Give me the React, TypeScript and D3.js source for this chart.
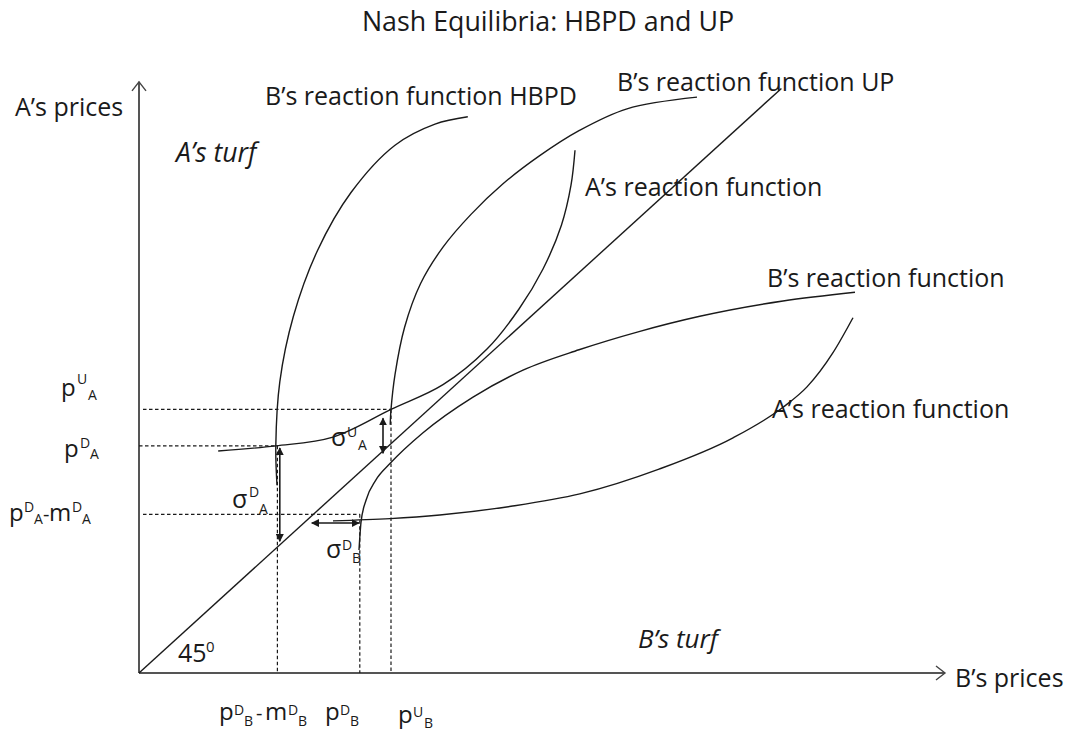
import React from "react";
import * as d3 from "d3";

// ---- Data (price units; the 45° line is A's price = B's price) ----
const pUA = 36.2;
const pDA = 31.2;
const pDAminus = 21.8;
const pDBminus = 17.3;
const pDB = 27.6;
const pUB = 31.5;

const bReactionHBPD: [number, number][] = [
  [17.25, 25.8], [17.1, 31.2], [17.6, 40.0], [19.3, 49.0], [22.3, 58.0], [26.5, 66.0],
  [32.0, 72.5], [37.0, 75.4], [41.1, 76.4],
];
const aReactionUpper: [number, number][] = [
  [9.9, 30.5], [17.1, 31.2], [24.25, 32.4], [31.5, 36.2], [38.0, 39.6], [43.5, 44.5],
  [47.5, 50.0], [50.5, 55.5], [52.8, 61.5], [54.0, 67.0], [54.5, 71.8],
];
const bReactionUP: [number, number][] = [
  [31.4, 34.1], [31.5, 36.2], [32.0, 41.0], [33.2, 47.5], [35.2, 53.5], [38.0, 58.5],
  [41.5, 63.0], [45.5, 67.2], [50.0, 71.0], [55.0, 74.5], [61.0, 77.5], [69.75, 79.1],
];
const bReactionLower: [number, number][] = [
  [27.5, 16.9], [27.75, 20.7], [28.4, 23.8], [29.6, 26.5], [31.4, 28.8], [35.5, 33.0],
  [41.75, 37.9], [48.0, 41.6], [55.0, 44.4], [62.5, 46.9], [70.1, 49.0], [80.5, 51.1], [89.5, 52.3],
];
const aReactionLower: [number, number][] = [
  [24.25, 20.9], [31.4, 21.2], [37.6, 21.7], [46.5, 22.9], [55.1, 24.6], [65.0, 28.0],
  [74.25, 32.3], [80.5, 36.5], [83.5, 39.3], [86.75, 44.0], [89.25, 48.8],
];
const diagonalEnd = 80.3;
const xAxisMax = 100.75;
const yAxisMax = 81.2;

// double-headed arrows [x1,y1,x2,y2]
const sigmaDA = [17.6, 30.9, 17.6, 18.1];
const sigmaUA = [30.5, 35.0, 30.5, 30.2];
const sigmaDB = [21.6, 20.6, 27.5, 20.6];

const W = 1068;
const H = 734;

const x = d3.scaleLinear().domain([0, 100]).range([139, 939]);
const y = d3.scaleLinear().domain([0, 100]).range([673, -55]);

const line = d3
  .line<[number, number]>()
  .x((d) => x(d[0]))
  .y((d) => y(d[1]))
  .curve(d3.curveCatmullRom.alpha(0.5));

const lineX = d3
  .line<[number, number]>()
  .x((d) => x(d[0]))
  .y((d) => y(d[1]))
  .curve(d3.curveMonotoneX);

const FONT = "'Open Sans', 'Noto Sans', sans-serif";
const INK = "#1a1a1a";

type Piece = { t: string; x: number; y: number; s: number };

const Sym = ({ parts }: { parts: Piece[] }) => (
  <text fontFamily={FONT} fill={INK}>
    {parts.map((p, i) => (
      <tspan key={i} x={p.x} y={p.y} fontSize={p.s}>
        {p.t}
      </tspan>
    ))}
  </text>
);

export default function App() {
  const dash = { stroke: INK, strokeWidth: 1.2, strokeDasharray: "3.5,2.5", fill: "none" };
  const curve = { stroke: INK, strokeWidth: 1.4, fill: "none" };
  const arrow = (a: number[], k: string) => (
    <line
      key={k}
      x1={x(a[0])}
      y1={y(a[1])}
      x2={x(a[2])}
      y2={y(a[3])}
      stroke={INK}
      strokeWidth={1.6}
      markerStart="url(#head)"
      markerEnd="url(#head)"
    />
  );
  const ox = x(0);
  const oy = y(0);
  const xe = x(xAxisMax);
  const ye = y(yAxisMax);
  return (
    <svg
      width={W}
      height={H}
      style={{ position: "absolute", left: 0, top: 0, background: "#fff" }}
    >
      <defs>
        <marker
          id="head"
          viewBox="0 0 10 10"
          refX="9"
          refY="5"
          markerWidth="5"
          markerHeight="5"
          orient="auto-start-reverse"
        >
          <path d="M0,0 L10,5 L0,10 z" fill={INK} />
        </marker>
      </defs>

      <text x={548} y={31} textAnchor="middle" fontSize={26.8} fontFamily={FONT} fill={INK}>
        Nash Equilibria: HBPD and UP
      </text>

      {/* axes */}
      <g stroke="#555" strokeWidth={2} fill="none">
        <line x1={ox} y1={oy} x2={xe} y2={oy} />
        <line x1={ox} y1={oy} x2={ox} y2={ye} />
      </g>
      <g stroke="#444" strokeWidth={1.4} fill="none">
        <path d={`M${xe - 9},${oy - 7} L${xe},${oy} L${xe - 9},${oy + 7}`} />
        <path d={`M${ox - 7},${ye + 9} L${ox},${ye} L${ox + 7},${ye + 9}`} />
      </g>

      {/* dashed guides */}
      <g {...dash}>
        <line x1={x(0.5)} y1={y(pUA)} x2={x(pUB)} y2={y(pUA)} />
        <line x1={x(0)} y1={y(pDA)} x2={x(pDBminus)} y2={y(pDA)} />
        <line x1={x(0.5)} y1={y(pDAminus)} x2={x(pDB)} y2={y(pDAminus)} />
        <line x1={x(pDBminus)} y1={y(pDA)} x2={x(pDBminus)} y2={y(0)} />
        <line x1={x(pDB)} y1={y(pDAminus)} x2={x(pDB)} y2={y(0)} />
        <line x1={x(pUB)} y1={y(pUA)} x2={x(pUB)} y2={y(0)} />
      </g>

      {/* 45 degree line */}
      <line x1={x(0)} y1={y(0)} x2={x(diagonalEnd)} y2={y(diagonalEnd)} stroke={INK} strokeWidth={1.4} />

      {/* reaction functions */}
      <path d={line(bReactionHBPD) || ""} {...curve} />
      <path d={line(aReactionUpper) || ""} {...curve} />
      <path d={line(bReactionUP) || ""} {...curve} />
      <path d={lineX(bReactionLower) || ""} {...curve} />
      <path d={lineX(aReactionLower) || ""} {...curve} />

      {/* sigma arrows */}
      {arrow(sigmaDA, "a1")}
      {arrow(sigmaUA, "a2")}
      {arrow(sigmaDB, "a3")}

      {/* labels */}
      <g fontFamily={FONT} fill={INK} fontSize={25}>
        <text x={15} y={116}>A’s prices</text>
        <text x={955} y={687}>B’s prices</text>
        <text x={265} y={105}>B’s reaction function HBPD</text>
        <text x={617} y={91}>B’s reaction function UP</text>
        <text x={585} y={196}>A’s reaction function</text>
        <text x={767} y={287}>B’s reaction function</text>
        <text x={772} y={418}>A’s reaction function</text>
        <text x={176} y={162} fontSize={26.5} fontStyle="italic">A’s turf</text>
        <text x={638} y={648} fontSize={26} fontStyle="italic">B’s turf</text>
      </g>
      <Sym parts={[{ t: "45", x: 178, y: 662, s: 25 }, { t: "0", x: 206, y: 652, s: 15 }]} />

      <Sym parts={[
        { t: "p", x: 61, y: 396, s: 24 }, { t: "U", x: 77, y: 384, s: 14 }, { t: "A", x: 88, y: 400, s: 14 },
      ]} />
      <Sym parts={[
        { t: "p", x: 64, y: 457, s: 24 }, { t: "D", x: 80, y: 448, s: 14 }, { t: "A", x: 90, y: 459, s: 14 },
      ]} />
      <Sym parts={[
        { t: "p", x: 9, y: 521, s: 24 }, { t: "D", x: 24, y: 512, s: 14 }, { t: "A", x: 34, y: 524, s: 14 },
        { t: "-", x: 43, y: 521, s: 20 },
        { t: "m", x: 49, y: 521, s: 24 }, { t: "D", x: 72, y: 512, s: 14 }, { t: "A", x: 82, y: 524, s: 14 },
      ]} />
      <Sym parts={[
        { t: "p", x: 219, y: 720, s: 24 }, { t: "D", x: 234, y: 715, s: 14 }, { t: "B", x: 244, y: 726, s: 14 },
        { t: "-", x: 256, y: 720, s: 20 },
        { t: "m", x: 265, y: 720, s: 24 }, { t: "D", x: 288, y: 715, s: 14 }, { t: "B", x: 298, y: 726, s: 14 },
      ]} />
      <Sym parts={[
        { t: "p", x: 325, y: 720, s: 24 }, { t: "D", x: 340, y: 715, s: 14 }, { t: "B", x: 350, y: 726, s: 14 },
      ]} />
      <Sym parts={[
        { t: "p", x: 398, y: 723, s: 24 }, { t: "U", x: 413, y: 717, s: 14 }, { t: "B", x: 424, y: 728, s: 14 },
      ]} />
      <Sym parts={[
        { t: "σ", x: 232, y: 508, s: 25 }, { t: "D", x: 249, y: 497, s: 14 }, { t: "A", x: 259, y: 514, s: 14 },
      ]} />
      <Sym parts={[
        { t: "σ", x: 331, y: 446, s: 25 }, { t: "U", x: 347, y: 437, s: 14 }, { t: "A", x: 358, y: 450, s: 14 },
      ]} />
      <Sym parts={[
        { t: "σ", x: 326, y: 558, s: 25 }, { t: "D", x: 342, y: 550, s: 14 }, { t: "B", x: 352, y: 563, s: 14 },
      ]} />
    </svg>
  );
}
